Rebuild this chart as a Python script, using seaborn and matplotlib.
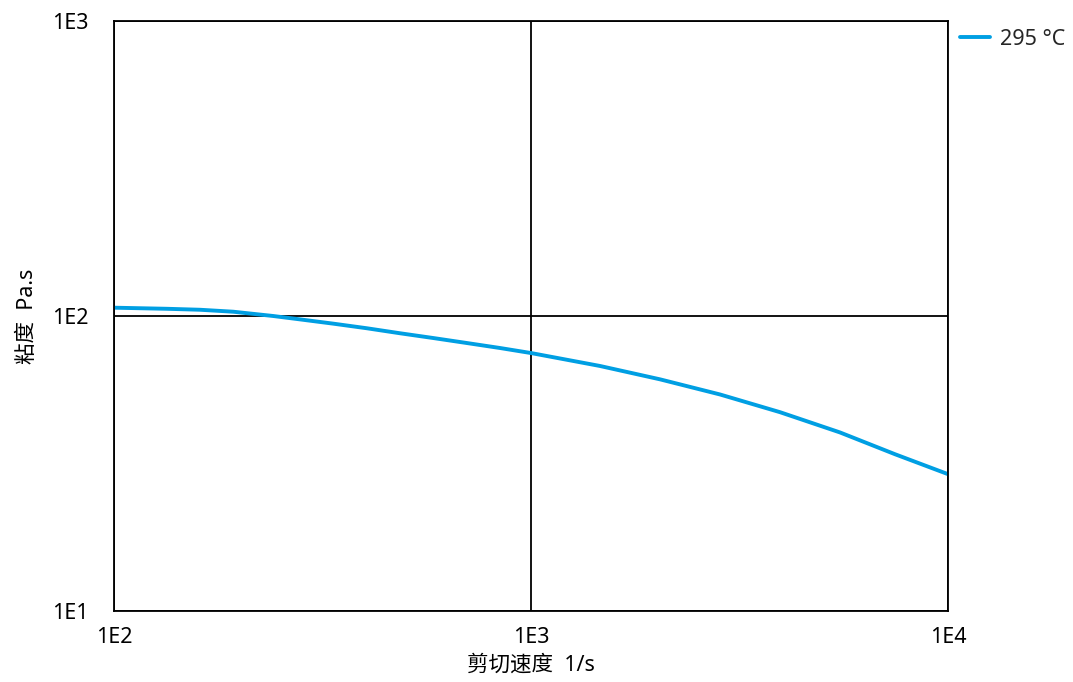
import matplotlib
matplotlib.use("Agg")
import matplotlib.pyplot as plt
import matplotlib.ticker as mticker
import seaborn as sns
import pandas as pd

shear_rate = [100, 133.8, 160.8, 193.3, 241.0, 279.3, 335.7, 403.6, 485.2, 583.2,
              701.3, 842.6, 1000, 1464, 2039, 2840, 3956, 5508, 7463, 10000]
viscosity = [106.7, 105.8, 105.0, 103.4, 100.0, 97.4, 94.2, 90.9, 87.4, 84.2,
             81.0, 77.9, 74.9, 67.7, 61.0, 54.2, 47.2, 40.3, 34.0, 29.1]
series_name = "295 °C"
x_ticks = [100, 1000, 10000]
x_tick_labels = ["1E2", "1E3", "1E4"]
y_ticks = [10, 100, 1000]
y_tick_labels = ["1E1", "1E2", "1E3"]

sns.set_style("white")
plt.rcParams['font.family'] = ['Noto Sans', 'Noto Sans CJK SC', 'DejaVu Sans']

df = pd.DataFrame({"rate": shear_rate, "visc": viscosity, "series": series_name})

fs = 15.5
fig = plt.figure(figsize=(10.73, 6.82), dpi=100)
ax = fig.add_axes([0.1062, 0.1041, 0.7773, 0.8651])
sns.lineplot(data=df, x="rate", y="visc", hue="series", palette=["#009FE3"],
             linewidth=2.8, ax=ax)
ax.set_xscale("log")
ax.set_yscale("log")
ax.set_xlim(100, 10000)
ax.set_ylim(10, 1000)
ax.set_xticks(x_ticks)
ax.set_xticklabels(x_tick_labels)
ax.set_yticks(y_ticks)
ax.set_yticklabels(y_tick_labels)
ax.xaxis.set_minor_locator(mticker.NullLocator())
ax.yaxis.set_minor_locator(mticker.NullLocator())
ax.grid(True, which="major", color="black", linewidth=1.3)
for s in ax.spines.values():
    s.set_color("black")
    s.set_linewidth(1.3)
ax.tick_params(axis="both", which="major", direction="out", length=7.2, width=1.3,
               color="black", labelsize=fs, labelcolor="black")
ax.tick_params(axis="x", pad=4)
ax.tick_params(axis="y", pad=11)
ax.set_xlabel("剪切速度  1/s", fontsize=fs, color="black", labelpad=5)
ax.set_ylabel("粘度  Pa.s", fontsize=fs, color="black", labelpad=10)
leg = ax.legend(loc="upper left", bbox_to_anchor=(1.005, 1.0), frameon=False,
                fontsize=fs, handlelength=1.4, handletextpad=0.45,
                borderaxespad=0, borderpad=0.35)
fig.savefig("out.png", dpi=100)
